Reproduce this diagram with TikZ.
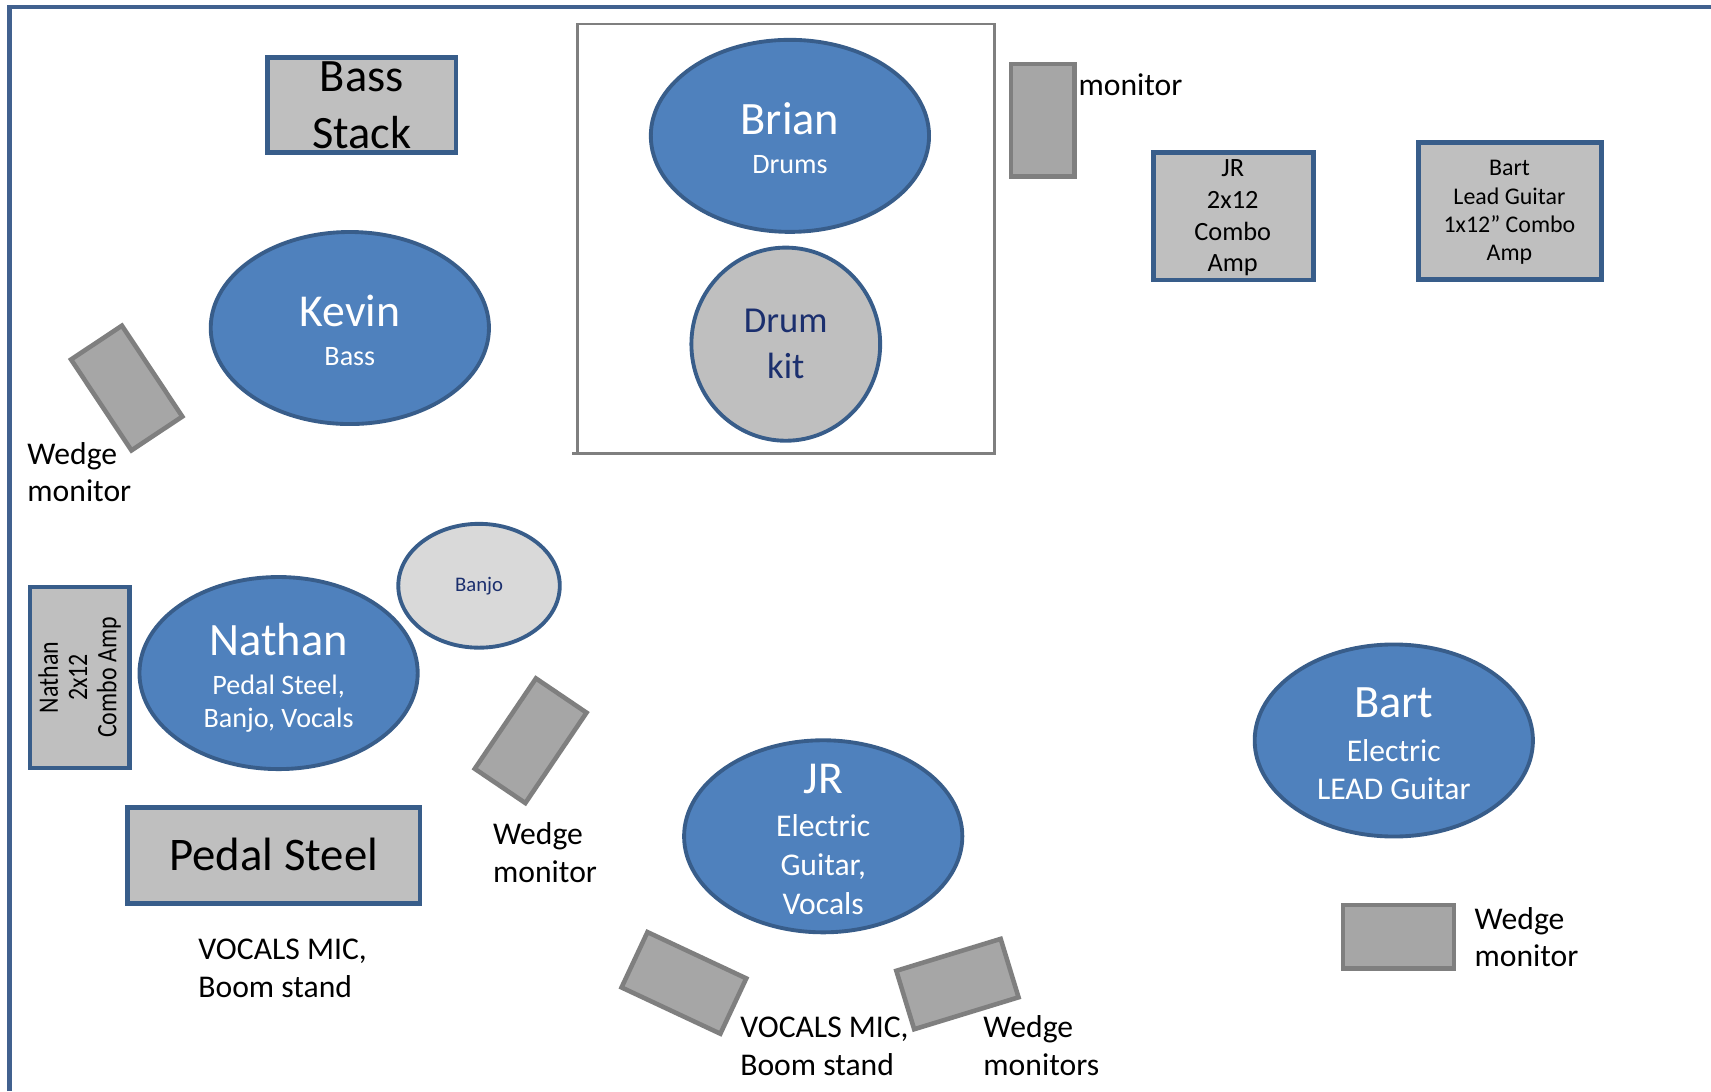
\documentclass[tikz,border=0pt]{standalone}
\usepackage{fontspec}
\setmainfont{Carlito}
\usetikzlibrary{shapes.geometric}

\definecolor{playerfill}{HTML}{4F81BD}
\definecolor{playerline}{HTML}{385D8A}
\definecolor{gearfill}{HTML}{BFBFBF}
\definecolor{banjofill}{HTML}{D9D9D9}
\definecolor{wedgefill}{HTML}{A6A6A6}
\definecolor{wedgeline}{HTML}{7F7F7F}
\definecolor{stageline}{HTML}{41618F}
\definecolor{navytext}{HTML}{1B2F6E}

\newcommand{\pxu}{0.010912cm}
\newcommand{\fs}[2]{\fontsize{#1}{#2}\selectfont}

\tikzset{
  player/.style={ellipse, draw=playerline, fill=playerfill, line width=1.1pt, text=white,
    align=center, inner sep=0pt, minimum width=255*\pxu, minimum height=176*\pxu},
  gear/.style={rectangle, draw=playerline, fill=gearfill, line width=1.3pt, align=center, inner sep=0pt},
  wedgebox/.style={rectangle, draw=wedgeline, fill=wedgefill, line width=1.3pt, inner sep=0pt,
    minimum width=100*\pxu, minimum height=56*\pxu},
  % text blocks are placed by the baseline of their last line
  words/.style={anchor=base, align=center, inner sep=0pt},
  note/.style={anchor=base west, align=left, inner sep=0pt, font=\fs{9}{10.7}},
}

\begin{document}
\begin{tikzpicture}[x=0.010912cm, y=-0.010912cm]
  \useasboundingbox (0,0) rectangle (1568,1000);
  % stage edge and drum riser
  \draw[stageline, line width=1.4pt] (9,1000) -- (9,6.4) -- (1568,6.4);
  \draw[wedgeline, line width=0.8pt] (524.4,415.4) -- (911.1,415.4) -- (911.1,22) -- (529.1,22) -- (529.1,415.4);

  % players
  \node[player] (brian) at (723.9,124.5) {};
  \node[player] (kevin) at (320.6,300.6) {};
  \node[player] (nathan) at (255.3,616.8) {};
  \node[player] (jr) at (754.4,766.4) {};
  \node[player] (bart) at (1277.3,678.6) {};
  \node[player, fill=gearfill, minimum width=173*\pxu, minimum height=177*\pxu] (drumkit) at (720.1,315.4) {};
  \node[player, fill=banjofill, text=navytext, minimum width=148*\pxu, minimum height=113.5*\pxu,
    font=\fs{5.9}{7}] (banjo) at (439,536.8) {Banjo};

  \node[words, text=white, font=\fs{8}{11.1}] (briantext) at (723.9,158.8) {{\fs{13.2}{11.1}Brian}\\Drums};
  \node[words, text=white, font=\fs{8}{11.2}] (kevintext) at (320.6,335.4) {{\fs{13}{11.2}Kevin}\\Bass};
  \node[words, text=white, font=\fs{8}{9.35}] (nathantext) at (255.3,666.9) {{\fs{13.2}{9.35}Nathan}\\[1.95pt]Pedal Steel,\\Banjo, Vocals};
  \node[words, text=white, font=\fs{9}{11}] (jrtext) at (754.4,837.9) {{\fs{13}{11}JR}\\[1.3pt]Electric\\Guitar,\\Vocals};
  \node[words, text=white, font=\fs{9}{10.8}] (barttext) at (1277.3,732.3) {{\fs{13.2}{10.8}Bart}\\[1.6pt]Electric\\LEAD Guitar};
  \node[words, text=navytext, font=\fs{10.4}{12.9}] (drumkittext) at (720.1,346.7) {Drum\\kit};

  % amps and instruments
  \node[gear, minimum width=173*\pxu, minimum height=87.5*\pxu] (bassstack) at (331.5,96.2) {};
  \node[words, font=\fs{13.2}{16.3}] (bassstacktext) at (331.5,136.5) {Bass\\Stack};
  \node[gear, minimum width=146.5*\pxu, minimum height=117*\pxu] (jramp) at (1130.3,198.1) {};
  \node[words, font=\fs{7.5}{9}] (jramptext) at (1129.7,249) {JR\\2x12\\Combo\\Amp};
  \node[gear, minimum width=167.5*\pxu, minimum height=125.6*\pxu] (bartamp) at (1383.8,193.2) {};
  \node[words, font=\fs{6.8}{8.05}] (bartamptext) at (1383.3,238.9) {Bart\\Lead Guitar\\1x12” Combo\\Amp};
  \node[gear, minimum width=91*\pxu, minimum height=166*\pxu] (nathanamp) at (73,620.9) {};
  \node[rotate=90, xscale=0.85, align=center, inner sep=0pt, font=\fs{8}{8.3}] (nathanamptext) at (nathanamp.center) {Nathan\\2x12\\Combo Amp};
  \node[gear, minimum width=268*\pxu, minimum height=88*\pxu] (pedalsteel) at (250.8,784.2) {};
  \node[words, font=\fs{13.3}{16}] (pedalsteeltext) at (250.8,797.8) {Pedal Steel};

  % monitors
  \node[wedgebox, minimum width=58*\pxu, minimum height=103*\pxu] (drumwedge) at (955.5,110) {};
  \node[wedgebox, rotate=-56.4] (kevinwedge) at (116.1,355.6) {};
  \node[wedgebox, rotate=55.9] (nathanwedge) at (486.3,678.8) {};
  \node[wedgebox, rotate=-25.1] (jrwedgea) at (626.75,900.75) {};
  \node[wedgebox, rotate=17] (jrwedgeb) at (877.4,901.8) {};
  \node[wedgebox, minimum width=101.6*\pxu, minimum height=58.4*\pxu] (bartwedge) at (1281.5,858.5) {};

  % labels
  \node[note] (drumwedgelbl) at (987.8,87.7) {monitor};
  \node[note] (kevinwedgelbl) at (24.5,460) {Wedge\\monitor};
  \node[note] (nathanwedgelbl) at (451.3,808.8) {Wedge\\monitor};
  \node[note] (nathanmic) at (181.2,914.2) {VOCALS MIC,\\Boom stand};
  \node[note] (jrmic) at (677.8,985.2) {VOCALS MIC,\\Boom stand};
  \node[note] (jrwedgelbl) at (900.6,985.2) {Wedge\\monitors};
  \node[note] (bartwedgelbl) at (1350.7,885.9) {Wedge\\monitor};
\end{tikzpicture}
\end{document}
